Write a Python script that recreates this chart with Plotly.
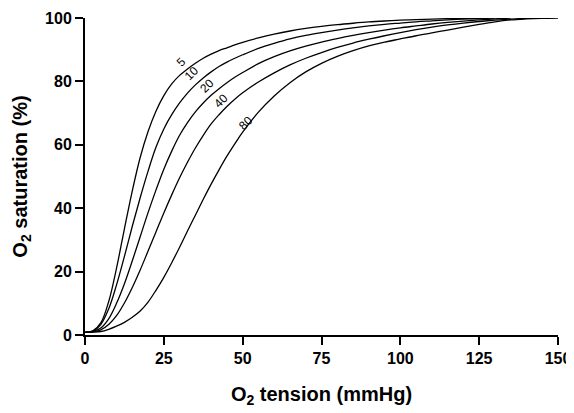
import plotly.graph_objects as go

# O2 tension (mmHg) sample grid: 2.5 mmHg steps to 50, then 5 mmHg steps
x_low = [0, 2.5, 5, 7.5, 10, 12.5, 15, 17.5, 20, 22.5, 25, 27.5, 30, 32.5, 35, 37.5, 40, 42.5, 45, 47.5, 50]

x_5 = x_low + [55, 60, 65, 70, 75, 80, 85, 90, 95, 100, 105, 110, 115, 120, 125]
y_5 = [0.8, 1.3, 3.8, 10.5, 21.1, 33.5, 45.5, 56.0, 64.2, 70.6, 75.5, 79.2, 81.9, 83.9, 85.7, 87.3, 88.6, 89.7, 90.6, 91.5, 92.3,
       93.7, 94.9, 95.9, 96.7, 97.35, 97.9, 98.35, 98.75, 99.05, 99.3, 99.5, 99.67, 99.8, 99.92, 100]

x_10 = x_low + [55, 60, 65, 70, 75, 80, 85, 90, 95, 100, 105, 110, 115, 120, 125, 130]
y_10 = [0.8, 1.2, 3.3, 8.2, 15.8, 24.8, 34.3, 43.3, 51.7, 59.2, 65.0, 69.5, 73.2, 76.3, 78.9, 81.1, 83.0, 84.7, 86.1, 87.3, 88.4,
        90.4, 92.0, 93.4, 94.5, 95.4, 96.2, 96.9, 97.5, 98.0, 98.4, 98.8, 99.1, 99.4, 99.65, 99.85, 100]

x_20 = x_low + [55, 60, 65, 70, 75, 80, 85, 90, 95, 100, 105, 110, 115, 120, 125, 130, 135]
y_20 = [0.8, 1.1, 2.2, 5.1, 10.0, 16.2, 23.4, 31.0, 38.6, 45.7, 52.3, 58.0, 63.0, 67.0, 70.4, 73.2, 75.6, 77.7, 79.6, 81.3, 82.8,
        85.6, 87.8, 89.6, 91.1, 92.4, 93.5, 94.5, 95.4, 96.2, 96.9, 97.5, 98.1, 98.6, 99.0, 99.4, 99.75, 100]

x_40 = x_low + [55, 60, 65, 70, 75, 80, 85, 90, 95, 100, 105, 110, 115, 120, 125, 130, 135, 140, 145]
y_40 = [0.8, 1.0, 1.6, 3.3, 6.1, 10.1, 15.0, 20.5, 26.5, 32.5, 38.5, 44.2, 49.6, 54.5, 59.0, 63.0, 66.6, 69.5, 72.1, 74.4, 76.4,
        79.8, 82.7, 85.2, 87.3, 89.1, 90.7, 92.1, 93.3, 94.4, 95.4, 96.3, 97.1, 97.8, 98.4, 98.9, 99.3, 99.65, 99.9, 100]

x_80 = x_low + [55, 60, 65, 70, 75, 80, 85, 90, 95, 100, 105, 110, 115, 120, 125, 130, 135, 140, 145, 150]
y_80 = [0.8, 0.9, 1.1, 1.8, 2.8, 4.0, 5.6, 7.6, 10.4, 14.1, 18.2, 22.8, 27.7, 32.8, 37.8, 42.8, 47.6, 52.1, 56.4, 60.3, 64.0,
        70.3, 75.4, 79.6, 83.0, 85.7, 87.9, 89.7, 91.2, 92.4, 93.4, 94.4, 95.3, 96.2, 97.1, 98.0, 98.8, 99.4, 99.7, 99.9, 100]

series_names = ["5", "10", "20", "40", "80"]
series_x = [x_5, x_10, x_20, x_40, x_80]
series_y = [y_5, y_10, y_20, y_40, y_80]

# curve label anchor points (data units)
label_x = [30.5, 34.0, 38.6, 43.0, 51.0]
label_y = [86.0, 82.5, 78.6, 73.9, 66.8]

x_ticks = [0, 25, 50, 75, 100, 125, 150]
y_ticks = [0, 20, 40, 60, 80, 100]

FONT = "Liberation Sans, Arial, Helvetica, sans-serif"

fig = go.Figure()
for name, xs, ys in zip(series_names, series_x, series_y):
    fig.add_trace(go.Scatter(x=xs, y=ys, mode="lines", name=name,
                             line=dict(color="black", width=1.3, shape="spline", smoothing=1.0),
                             hoverinfo="skip"))

for name, lx, ly in zip(series_names, label_x, label_y):
    fig.add_annotation(x=lx, y=ly, text=name, showarrow=False, textangle=-45,
                       font=dict(family=FONT, size=12, color="black"))

axis_font = dict(family=FONT, size=16, color="black")
fig.update_layout(
    width=566, height=405,
    margin=dict(l=77, r=16, t=10, b=78),
    paper_bgcolor="white", plot_bgcolor="white",
    showlegend=False,
    font=dict(family=FONT, color="black"),
    xaxis=dict(range=[0, 150], tickvals=x_ticks, ticktext=[f"<b>{v}</b>" for v in x_ticks],
               showline=True, linecolor="black", linewidth=2, mirror=False, automargin=False,
               ticks="outside", ticklen=8, tickwidth=2, tickcolor="black",
               showgrid=False, zeroline=False, tickfont=axis_font,
               title=dict(text="<b>O<sub>2</sub> tension (mmHg)</b>", standoff=21,
                          font=dict(family=FONT, size=20, color="black"))),
    yaxis=dict(range=[0, 100], tickvals=y_ticks, ticktext=[f"<b>{v}</b>" for v in y_ticks],
               showline=True, linecolor="black", linewidth=2, automargin=False,
               ticks="outside", ticklen=8, tickwidth=2, tickcolor="black",
               showgrid=False, zeroline=False, tickfont=axis_font,
               title=dict(text="<b>O<sub>2</sub> saturation (%)</b>", standoff=12,
                          font=dict(family=FONT, size=20, color="black"))),
)

fig.write_html("out.html")
